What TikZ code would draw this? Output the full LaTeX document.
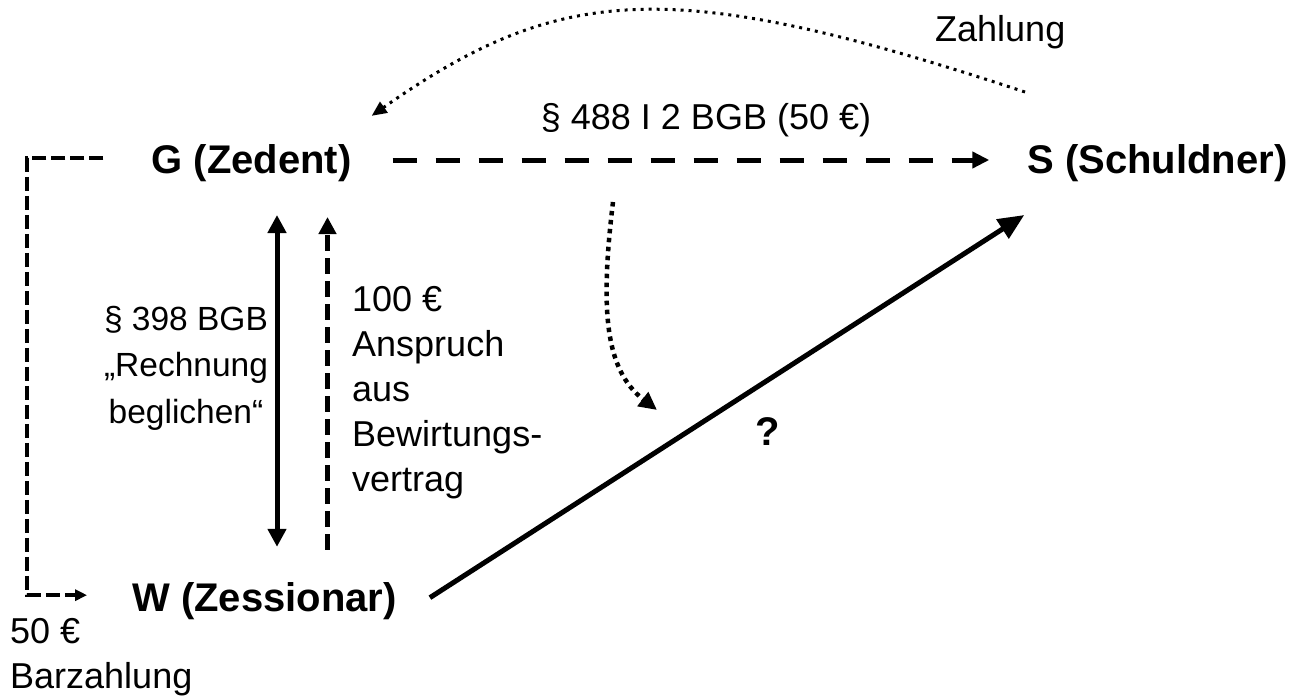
\documentclass[tikz,border=0pt]{standalone}
\usepackage{fontspec}
\setmainfont{Liberation Sans}
\usetikzlibrary{arrows.meta,calc}
\begin{document}
\begin{tikzpicture}[x=1pt,y=-1pt,
  txt/.style={font=\fontsize{36}{45}\selectfont, inner sep=0pt},
  smalltxt/.style={font=\fontsize{33.5}{46.5}\selectfont, inner sep=0pt},
  bold/.style={font=\fontsize{40}{48}\selectfont\bfseries, inner sep=0pt},
  bigdash/.style={line width=5pt, dash pattern=on 24pt off 19pt, -{Triangle[length=17pt,width=16pt]}},
  vdash/.style={line width=5pt, dash pattern=on 16pt off 7pt, -{Triangle[length=17pt,width=17pt]}},
  ldash/.style={line width=4pt, dash pattern=on 14pt off 5pt, -{Triangle[length=12pt,width=11pt]}},
  solidarrow/.style={line width=5pt, -{Triangle[length=26pt,width=22pt]}},
  dblarrow/.style={line width=5pt, {Triangle[length=18pt,width=18pt]}-{Triangle[length=18pt,width=18pt]}},
  topdots/.style={line width=3pt, dash pattern=on 3pt off 5pt, -{Triangle[length=15pt,width=13pt]}},
  middots/.style={line width=4.5pt, dash pattern=on 4.5pt off 4.5pt, -{Triangle[length=18pt,width=17pt]}}
]
\useasboundingbox (0,0) rectangle (1298,698);

% main nodes
\node[bold, anchor=base] (G) at (251.5,173) {G (Zedent)};
\node[bold, anchor=base] (S) at (1157.5,173) {S (Schuldner)};
\node[bold, anchor=base] (W) at (264.5,611) {W (Zessionar)};

% labels (base anchor of a multi-line node = baseline of its last line)
\node[txt, anchor=base] (l488) at (706,130) {§ 488 I 2 BGB (50 €)};
\node[txt, anchor=base west] (lzahl) at (935,42) {Zahlung};
\node[smalltxt, anchor=base, align=center] (l398) at (186,423) {§ 398 BGB\\„Rechnung\\beglichen“};
\node[txt, anchor=base west, align=left] (l100) at (352,491) {100 €\\Anspruch\\aus\\Bewirtungs-\\vertrag};
\node[txt, anchor=base west, align=left] (l50) at (10,688) {50 €\\Barzahlung};
\node[bold, anchor=base] (q) at (768,445) {?};

% G -> S dashed
\draw[bigdash, shorten <=41pt, shorten >=38pt] (G.east |- 0,160) -- (S.west |- 0,160);

% vertical arrows
\draw[dblarrow] ($(G.south)+(25.5,33.5)$) -- ($(W.north)+(12.5,-35)$);
\draw[vdash] ($(W.north)+(63,-32)$) -- ($(G.south)+(76,35.5)$);

% left dashed G -> W
\draw[ldash] ($(G.west)+(-48,-4.5)$) -| ($(W.west)+(-105,-5.5)$) -- ($(W.west)+(-45,-5.5)$);

% W -> S solid
\draw[solidarrow] ($(W.east)+(33,-3)$) -- ($(S.south west)+(-3,33.5)$);

% Zahlung dotted curve
\coordinate (zA) at (1025,92);
\draw[topdots] (zA) .. controls (675,-23.5) and (562,-18) .. ($(G.north east)+(20,-28)$);

% middle dotted curve
\coordinate (mA) at (613,202);
\coordinate (mB) at (657,410);
\draw[middots] (mA) .. controls (600,310) and (605,370) .. (mB);
\end{tikzpicture}
\end{document}
